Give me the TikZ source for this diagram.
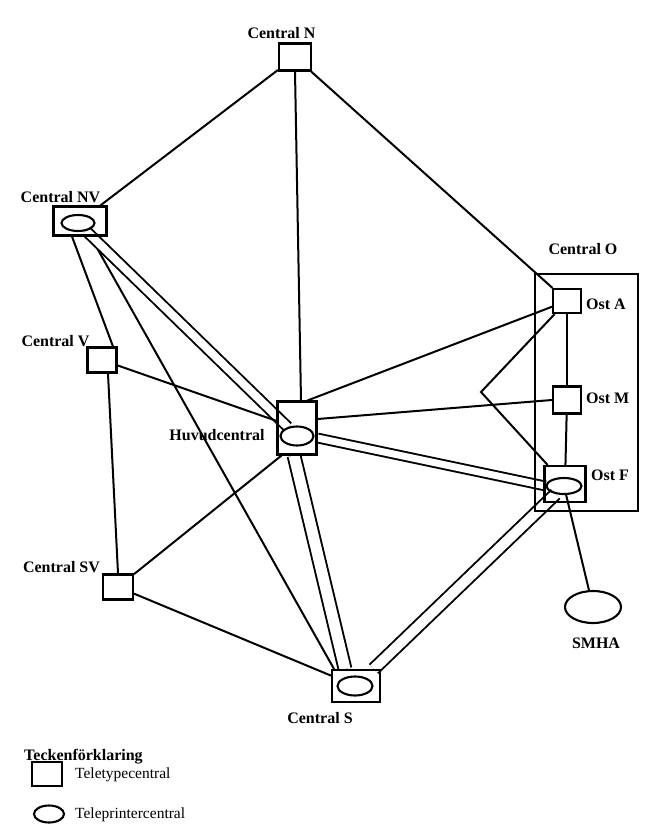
\documentclass[tikz,border=0pt]{standalone}
\usepackage{fontspec}
\setmainfont{Liberation Serif}
\usetikzlibrary{shapes.geometric}
\pgfdeclarelayer{bg}
\pgfsetlayers{bg,main}
\begin{document}
\begin{tikzpicture}[x=1pt,y=-1pt,
  ln/.style={line width=2pt},
  dbl/.style={line width=1.9pt, double, double distance=#1},
  tbox/.style={draw, line width=2.1pt, rectangle, inner sep=0pt},
  tell/.style={draw, line width=2.1pt, ellipse, inner sep=0pt},
  lbl/.style={font=\bfseries\fontsize{16}{19}\selectfont, inner sep=0pt, anchor=base},
  lblw/.style={lbl, anchor=base west},
  leg/.style={font=\fontsize{15.5}{18}\selectfont, inner sep=0pt, anchor=base west}]
\useasboundingbox (0,0) rectangle (651,836);

% stations
\node[tbox, minimum width=32pt, minimum height=27pt] (N) at (295,57) {};
\node[tbox, minimum width=53pt, minimum height=29pt] (NV) at (80,221) {};
\node[tell, minimum width=33pt, minimum height=16pt] (NVe) at (78,223) {};
\node[tbox, minimum width=29pt, minimum height=25pt] (V) at (102,360) {};
\node[tbox, minimum width=39pt, minimum height=53pt] (H) at (297,428) {};
\node[tell, minimum width=33pt, minimum height=19pt] (He) at (297,436) {};
\node[tbox, minimum width=103pt, minimum height=237pt] (O) at (586.5,392.5) {};
\node[tbox, minimum width=28pt, minimum height=24pt] (OstA) at (567,301) {};
\node[tbox, minimum width=28pt, minimum height=27pt] (OstM) at (567,400) {};
\node[tbox, minimum width=41pt, minimum height=36pt] (OstF) at (565,484) {};
\node[tell, minimum width=35pt, minimum height=16pt] (OstFe) at (564,486) {};
\node[tbox, minimum width=30pt, minimum height=25pt] (SV) at (118,587) {};
\node[tbox, minimum width=48pt, minimum height=32pt] (S) at (356,686) {};
\node[tell, minimum width=35pt, minimum height=19pt] (Se) at (355,686) {};
\node[tell, minimum width=56pt, minimum height=32pt] (SMHA) at (593,607) {};
\coordinate (bend) at (481,392);

% labels
\node[lbl] (Nl) at (281.5,38) {Central N};
\node[lbl] (NVl) at (60.5,202) {Central NV};
\node[lbl] (Vl) at (55.5,346) {Central V};
\node[lbl] (Hl) at (217,440) {Huvudcentral};
\node[lbl] (Ol) at (583,254) {Central O};
\node[lblw] (OstAl) at (586,309) {Ost A};
\node[lblw] (OstMl) at (586,403) {Ost M};
\node[lblw] (OstFl) at (591,480) {Ost F};
\node[lbl] (SVl) at (61.5,572) {Central SV};
\node[lbl] (Sl) at (320,723) {Central S};
\node[lbl] (SMHAl) at (596,648) {SMHA};

% legend
\node[lblw] (legt) at (24,760) {Teckenförklaring};
\node[tbox, minimum width=30pt, minimum height=24pt] (legbox) at (47,774) {};
\node[leg] (legboxl) at (75,778) {Teletypecentral};
\node[tell, minimum width=30pt, minimum height=17pt] (legell) at (49,814) {};
\node[leg] (legelll) at (75,818) {Teleprintercentral};

% connections
\begin{pgfonlayer}{bg}
\draw[ln] (N) -- (NV);
\draw[ln] (N.south) -- ([xshift=4pt]H.north);
\draw[ln] (N) -- (OstA);
\draw[ln] ([xshift=-8pt]NV.south) -- ([xshift=11pt]V.north);
\draw[ln] ([xshift=10pt]NVe.south) -- ([xshift=-22pt]S.north);
\draw[dbl=8pt] (NVe) -- (He);
\draw[ln] (V) -- (H);
\draw[ln] ([xshift=6pt]V.south) -- (SV.north);
\draw[ln] (SV) -- ([xshift=5pt]H.south west);
\draw[ln] (SV) -- (S);
\draw[ln] ([xshift=-10pt]H.north east) -- (OstA);
\draw[ln] ([yshift=9pt]H.east) -- (OstM.west);
\draw[dbl=7pt] ([yshift=-10pt]H.east) -- (OstFe.west);
\draw[dbl=11pt] ([xshift=-3pt]H.south) -- ([xshift=-11pt]S.north);
\draw[dbl=10pt] (OstFe) -- (S);
\draw[ln] (OstA) -- (OstM);
\draw[ln] (OstM) -- (OstF);
\draw[ln] (OstA) -- (bend) -- (OstF);
\draw[ln] (OstFe) -- (SMHA);
\end{pgfonlayer}
\end{tikzpicture}
\end{document}
